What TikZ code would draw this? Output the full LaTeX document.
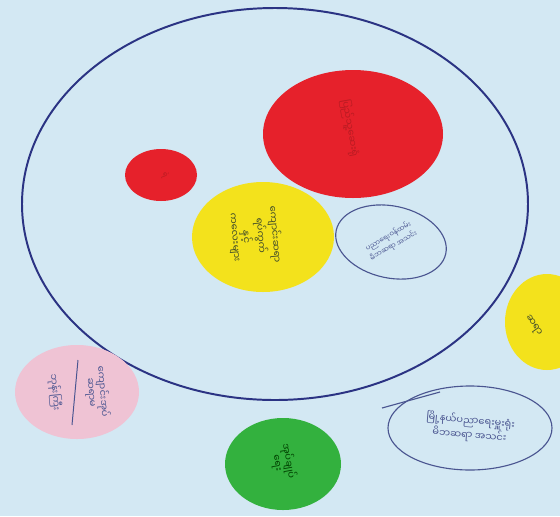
\documentclass[tikz,border=0pt]{standalone}
\usepackage{fontspec}
\newfontfamily\mya[Script=Myanmar]{Noto Sans Myanmar UI}
\definecolor{paper}{HTML}{D3E8F3}
\definecolor{pen}{HTML}{2B3383}
\definecolor{penb}{HTML}{4A5590}
\definecolor{redd}{HTML}{E6212B}
\definecolor{yell}{HTML}{F3E21C}
\definecolor{pinkk}{HTML}{EFC3D4}
\definecolor{grn}{HTML}{33B13E}
\definecolor{ink}{HTML}{3E4A2A}
\tikzset{
  ring/.style={draw=pen, line width=1.4pt},
  thinring/.style={draw=penb, line width=0.8pt},
  hand/.style={font=\mya\scriptsize, text=penb, align=center, inner sep=0pt},
}
\begin{document}
\begin{tikzpicture}[x=0.025cm,y=-0.025cm]
\path[fill=paper] (0,0) rectangle (560,516);
\useasboundingbox (0,0) rectangle (560,516);
% big circle
\draw[ring] (275,204) ellipse [x radius=253, y radius=196];
% shapes
\fill[redd] (353,134) ellipse [x radius=90, y radius=64];
\fill[redd] (161,175) ellipse [x radius=36, y radius=26];
\fill[yell] (263,237) ellipse [x radius=71, y radius=55];
\draw[thinring, rotate around={-12:(391,242)}] (391,242) ellipse [x radius=56, y radius=36];
\fill[yell] (547,322) ellipse [x radius=42, y radius=48];
\fill[pinkk] (77,392) ellipse [x radius=62, y radius=47];
\fill[grn] (283,464) ellipse [x radius=58, y radius=46];
\draw[thinring] (470,428) ellipse [x radius=82, y radius=42];
\coordinate (s1) at (382,408);
\coordinate (s2) at (440,392);
\draw[thinring] (s1) -- (s2);
% divider in pink
\coordinate (p1) at (78,360);
\coordinate (p2) at (72,425);
\draw[penb, line width=0.7pt] (p1) -- (p2);
% texts
\node[hand, rotate=-80, text=redd!80!black] (tr1) at (350,128) {ပြည်သူ့ဆေးရုံ};
\node[hand, rotate=-70, text=redd!80!black, font=\mya\tiny] (tr2) at (165,175) {ရဲ};
\node[hand, rotate=-85, text=ink] (ty) at (255,236) {ကျောင်းဆရာ\\ရပ်ကွက်\\နှင့်\\ကလေးများ};
\node[hand, rotate=30, font=\mya\tiny] (te) at (391,241) {ပညာရေးဝန်ထမ်း\\မိဘဆရာ အသင်း};
\node[hand, rotate=-55, text=ink] (tyr) at (533,326) {ဆရာ};
\node[hand, rotate=-85] (tp1) at (55,392) {ဘုန်းကြီး};
\node[hand, rotate=-85] (tp2) at (97,392) {ကျောင်းအုပ်\\ဆရာမ};
\node[hand, rotate=-80, text=green!25!black] (tg) at (283,462) {အုပ်ချုပ်\\ရေး};
\node[hand, rotate=-5] (tb) at (470,428) {မြို့နယ်ပညာရေးမှူးရုံး\\မိဘဆရာ အသင်း};
\end{tikzpicture}
\end{document}
